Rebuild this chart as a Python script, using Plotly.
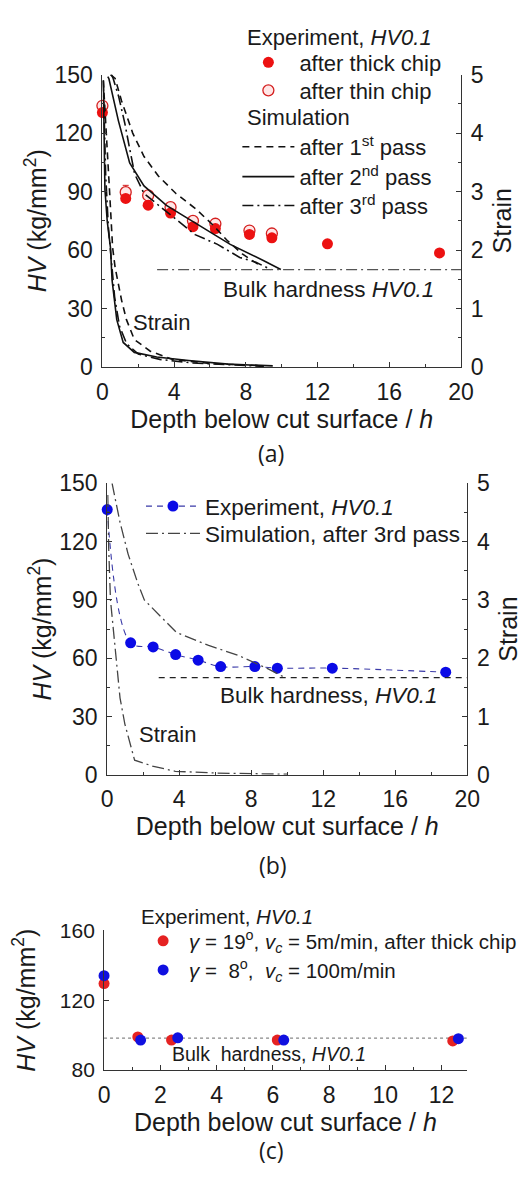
import plotly.graph_objects as go

# ---------------- data: panel (a) ----------------
depth_thick = [0, 1.3, 2.55, 3.8, 5.05, 6.3, 8.2, 9.45, 12.55, 18.8]
hv_thick = [130.5, 86.5, 83, 79, 72, 71, 68, 66.3, 63.2, 58.5]
depth_thin = [0, 1.3, 2.55, 3.8, 5.05, 6.3, 8.2, 9.45]
hv_thin = [134, 89.7, 88, 82, 75, 73.5, 70, 68.5]
err_thin = [1.5, 3.5, 1.5, 1.5, 1.5, 1.5, 1.5, 1.5]

sim1_x = [0.45, 0.71, 1.07, 1.69, 2.32, 3.12, 4.1, 5.17, 6.15, 6.95, 7.8, 8.8]
sim1_hv = [150, 148, 136.5, 120, 108, 98, 89, 81.4, 73, 65, 58, 52]
sim2_x = [0.3, 0.36, 0.89, 1.52, 2.32, 3.57, 5.35, 7.13, 9.0, 9.95]
sim2_hv = [149, 148, 126.4, 104.7, 92.9, 82.9, 72.9, 62.9, 54.5, 50]
sim3_x = [0.5, 0.6, 0.9, 1.25, 1.52, 1.8, 2.32, 3.57, 5.17, 6.42, 7.66, 8.56, 9.4]
sim3_hv = [150, 148, 139, 125, 112, 99, 89, 79.6, 67.9, 62.9, 56.2, 53.7, 50]

strain1_x = [0.05, 0.2, 0.4, 0.57, 0.71, 1.07, 1.34, 1.78, 2.67, 3.92, 6.0, 9.0]
strain1 = [4.9, 4.0, 3.0, 2.04, 1.7, 1.14, 0.81, 0.47, 0.27, 0.13, 0.06, 0.02]
strain2_x = [0.05, 0.14, 0.27, 0.45, 0.54, 0.8, 1.16, 1.78, 3.03, 4.81, 7.0, 9.5]
strain2 = [4.9, 3.04, 2.49, 2.04, 1.48, 0.81, 0.42, 0.25, 0.17, 0.11, 0.05, 0.02]
strain3_x = [0.05, 0.18, 0.33, 0.5, 0.68, 0.95, 1.35, 2.0, 3.2, 5.0, 7.5, 9.0]
strain3 = [4.9, 3.3, 2.4, 1.8, 1.2, 0.7, 0.4, 0.22, 0.13, 0.07, 0.03, 0.01]

bulk_a = 50
bulk_a_x = [3.05, 20]

# ---------------- data: panel (b) ----------------
depth_b = [0, 1.3, 2.55, 3.8, 5.05, 6.3, 8.2, 9.45, 12.5, 18.8]
hv_b = [136.5, 67.9, 65.8, 61.9, 59, 55.7, 55.7, 54.9, 54.9, 52.8]
simb_x = [0.27, 0.71, 1.16, 1.7, 2.06, 3.84, 5.63, 7.24, 8.85, 9.92]
simb_hv = [150, 130, 113.6, 98.5, 90, 73.3, 66.6, 61.6, 54.9, 49.8]
strainb_x = [0.03, 0.08, 0.18, 0.27, 0.45, 0.71, 0.98, 1.34, 1.52, 2.51, 3.78, 6.0, 10.0]
strainb = [4.8, 3.9, 3.0, 2.72, 2.16, 1.32, 0.87, 0.48, 0.25, 0.15, 0.06, 0.03, 0.01]
bulk_b = 50
bulk_b_x = [2.86, 20]

# ---------------- data: panel (c) ----------------
depth_c_red = [0, 1.2, 2.4, 6.16, 12.4]
hv_c_red = [129.5, 99, 97.2, 97.2, 96.7]
depth_c_blue = [0, 1.3, 2.62, 6.39, 12.6]
hv_c_blue = [134, 97.2, 98.5, 97.2, 98]
bulk_c = 98.3
bulk_c_x = [0, 12.9]

FONT = "Liberation Sans, Arial, sans-serif"
TXT = "#1a1a1a"
AX = "#333333"
W, H = 529, 1177


def px_x(p):
    return p / W


def px_y(p):
    return 1 - p / H


fig = go.Figure()

# ---- panel (a) traces ----
fig.add_trace(go.Scatter(x=depth_thin, y=hv_thin, mode="markers", name="after thin chip",
                         legend="legend2",
                         marker=dict(symbol="circle", size=11, color="#ffe6e6",
                                     line=dict(color="#d42020", width=1.3)),
                         error_y=dict(type="data", array=err_thin, color="#d42020", thickness=1, width=3),
                         cliponaxis=False, xaxis="x", yaxis="y"))
fig.add_trace(go.Scatter(x=depth_thick, y=hv_thick, mode="markers", name="after thick chip",
                         legend="legend",
                         marker=dict(symbol="circle", size=11, color="#ec1111"),
                         cliponaxis=False, xaxis="x", yaxis="y"))

sim_styles = [("after 1<sup>st</sup> pass", sim1_x, sim1_hv, strain1_x, strain1, "7px,5px", "legend3"),
              ("after 2<sup>nd</sup> pass", sim2_x, sim2_hv, strain2_x, strain2, "solid", "legend4"),
              ("after 3<sup>rd</sup> pass", sim3_x, sim3_hv, strain3_x, strain3, "11px,4px,2px,4px", "legend5")]
for name, sx, sy, tx, ty, dash, lg in sim_styles:
    fig.add_trace(go.Scatter(x=sx, y=sy, mode="lines", name=name, legend=lg,
                             line=dict(color="#111", width=1.6, dash=dash),
                             xaxis="x", yaxis="y"))
    fig.add_trace(go.Scatter(x=tx, y=ty, mode="lines", showlegend=False,
                             line=dict(color="#111", width=1.6, dash=dash),
                             cliponaxis=False, xaxis="x", yaxis="y2"))

fig.add_trace(go.Scatter(x=bulk_a_x, y=[bulk_a] * len(bulk_a_x), mode="lines", showlegend=False,
                         line=dict(color="#555", width=1.3, dash="11px,4px,2px,4px"),
                         xaxis="x", yaxis="y"))

# ---- panel (b) traces ----
fig.add_trace(go.Scatter(x=depth_b, y=hv_b, mode="lines+markers", name="Experiment, <i>HV0.1</i>",
                         legend="legend6", line=dict(color="#3a3aa8", width=1.1, dash="6px,5px",
                                                     shape="spline"),
                         marker=dict(size=11, color="#0a0ae6"), cliponaxis=False,
                         xaxis="x2", yaxis="y3"))
fig.add_trace(go.Scatter(x=simb_x, y=simb_hv, mode="lines", name="Simulation, after 3rd pass",
                         legend="legend7", line=dict(color="#444", width=1.3, dash="12px,4px,2px,4px"),
                         xaxis="x2", yaxis="y3"))
fig.add_trace(go.Scatter(x=strainb_x, y=strainb, mode="lines", showlegend=False,
                         line=dict(color="#444", width=1.3, dash="12px,4px,2px,4px"),
                         cliponaxis=False, xaxis="x2", yaxis="y4"))
fig.add_trace(go.Scatter(x=bulk_b_x, y=[bulk_b] * len(bulk_b_x), mode="lines", showlegend=False,
                         line=dict(color="#222", width=1.2, dash="6px,5px"),
                         xaxis="x2", yaxis="y3"))

# ---- panel (c) traces ----
fig.add_trace(go.Scatter(x=bulk_c_x, y=[bulk_c] * len(bulk_c_x), mode="lines", showlegend=False,
                         line=dict(color="#888", width=1.3, dash="3px,3px"),
                         xaxis="x3", yaxis="y5"))
fig.add_trace(go.Scatter(x=depth_c_red, y=hv_c_red, mode="markers",
                         name="<i>γ</i> = 19<sup>o</sup>, <i>v<sub>c</sub></i> = 5m/min, after thick chip",
                         legend="legend8",
                         marker=dict(size=11, color="#e52222"), cliponaxis=False,
                         xaxis="x3", yaxis="y5"))
fig.add_trace(go.Scatter(x=depth_c_blue, y=hv_c_blue, mode="markers",
                         name="<i>γ</i> =\u00a0 8<sup>o</sup>,\u00a0 <i>v<sub>c</sub></i> = 100m/min",
                         legend="legend9",
                         marker=dict(size=11, color="#1010e0"), cliponaxis=False,
                         xaxis="x3", yaxis="y5"))


def axis(tick=23, tsize=25, **kw):
    d = dict(showline=True, linecolor=AX, linewidth=1, ticks="inside", ticklen=5, tickwidth=1,
             tickcolor=AX, showgrid=False, zeroline=False, fixedrange=True,
             ticklabelstandoff=4,
             tickfont=dict(family=FONT, size=tick, color=TXT))
    d.update(kw)
    d["title"]["font"] = dict(family=FONT, size=tsize, color=TXT)
    return d


def minor(step):
    return dict(dtick=step, ticks="inside", ticklen=3, tickcolor=AX)


def leg(xp, yp, size, itemwidth):
    return dict(x=px_x(xp), y=px_y(yp), xanchor="left", yanchor="middle",
                bgcolor="rgba(0,0,0,0)", borderwidth=0, itemwidth=itemwidth,
                font=dict(family=FONT, size=size, color=TXT))


xtitle = "Depth below cut surface / <i>h</i>"
ytitle = "<i>HV</i> (kg/mm<sup>2</sup>)"

fig.update_layout(
    width=W, height=H, margin=dict(l=0, r=0, t=0, b=0),
    paper_bgcolor="white", plot_bgcolor="rgba(0,0,0,0)",
    font=dict(family=FONT, size=22, color=TXT),
    showlegend=True,
    # (a)
    xaxis=axis(domain=[px_x(100), px_x(472)], anchor="y", range=[0, 20], dtick=4,
               minor=minor(2), title=dict(text=xtitle, standoff=4)),
    yaxis=axis(domain=[px_y(362), px_y(63)], anchor="x", range=[0, 150], dtick=30,
               minor=minor(15), title=dict(text=ytitle, standoff=0)),
    yaxis2=axis(overlaying="y", side="right", anchor="x", range=[0, 5], dtick=1,
                minor=minor(0.5), title=dict(text="Strain", standoff=10)),
    # (b)
    xaxis2=axis(domain=[px_x(105), px_x(478.5)], anchor="y3", range=[0, 20], dtick=4,
                minor=minor(2), title=dict(text=xtitle, standoff=4)),
    yaxis3=axis(domain=[px_y(779), px_y(481)], anchor="x2", range=[0, 150], dtick=30,
                minor=minor(15), title=dict(text=ytitle, standoff=0)),
    yaxis4=axis(overlaying="y3", side="right", anchor="x2", range=[0, 5], dtick=1,
                minor=minor(0.5), title=dict(text="Strain", standoff=10)),
    # (c)
    xaxis3=axis(domain=[px_x(101.7), px_x(478)], anchor="y5", range=[0, 12.9], dtick=2,
                minor=minor(1), title=dict(text=xtitle, standoff=5)),
    yaxis5=axis(tick=21, domain=[px_y(1081), px_y(938)], anchor="x3", range=[80, 160], dtick=40,
                title=dict(text=ytitle, standoff=17)),
    # legends: one per entry so each row sits where the reference puts it
    legend=leg(240, 50.6, 22, 52),
    legend2=leg(240, 79.3, 22, 52),
    legend3=leg(240, 137, 22, 52),
    legend4=leg(240, 167.5, 22, 52),
    legend5=leg(240, 197, 22, 52),
    legend6=leg(140, 504.6, 22.5, 54),
    legend7=leg(140, 532.6, 22.5, 54),
    legend8=leg(136, 949, 20.5, 42),
    legend9=leg(136, 978.7, 20.5, 42),
)


def note(text, x, y, xref="paper", yref="paper", size=22, family=FONT, xanchor="center"):
    return dict(text=text, x=x, y=y, xref=xref, yref=yref, showarrow=False,
                xanchor=xanchor, yanchor="middle",
                font=dict(family=family, size=size, color=TXT))


ann = [
    note("(a)", px_x(275), px_y(450), size=23, family="Open Sans"),
    note("(b)", px_x(277), px_y(871), size=23, family="Open Sans"),
    note("(c)", px_x(275), px_y(1163), size=23, family="Open Sans"),
    note("Experiment, <i>HV0.1</i>", px_x(248), px_y(25.3), xanchor="left"),
    note("Simulation", px_x(248), px_y(107), xanchor="left"),
    note("Experiment, <i>HV0.1</i>", px_x(138), px_y(923.6), size=20.5, xanchor="left"),
    note("Bulk hardness <i>HV0.1</i>", 12.6, 40, "x", "y", size=22.5),
    note("Strain", 3.3, 22.8, "x", "y"),
    note("Bulk hardness, <i>HV0.1</i>", 12.3, 41, "x2", "y3", size=22.5),
    note("Strain", 3.35, 20.6, "x2", "y3"),
    note("Bulk\u00a0 hardness, <i>HV0.1</i>", 5.86, 89, "x3", "y5", size=19.5),
]
fig.update_layout(annotations=ann)

fig.write_html("out.html")
